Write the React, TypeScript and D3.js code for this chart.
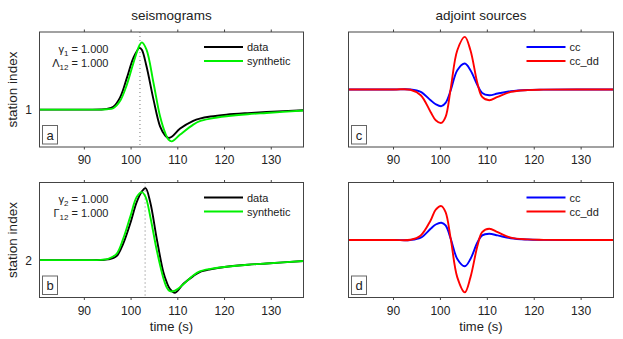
import React, { useEffect, useRef } from 'react';
import * as d3 from 'd3';

// time axis ticks (s)
const timeTicks = [90, 100, 110, 120, 130];
const timeDomain = [80.4, 136.9];

// seismograms, station 1 (panel a)
const timeA = [80.4, 90, 93.5, 94.8, 96.2, 97.6, 99.1, 100.5, 101.8, 102.3, 103.3, 104.8, 106.2, 107.3, 108.0, 108.7, 110.5, 113.3, 114.7, 117, 120.4, 125, 129, 136.9];
const dataA = [0, 0, 0.001, 0.006, 0.025, 0.102, 0.276, 0.45, 0.537, 0.52, 0.377, 0.087, -0.145, -0.225, -0.246, -0.236, -0.165, -0.098, -0.078, -0.06, -0.044, -0.03, -0.02, -0.005];
const synthA = [0, 0, 0, 0.003, 0.012, 0.072, 0.217, 0.406, 0.56, 0.585, 0.522, 0.232, -0.058, -0.203, -0.26, -0.276, -0.217, -0.13, -0.1, -0.078, -0.058, -0.04, -0.029, -0.008];

// seismograms, station 2 (panel b)
const timeB = [80.4, 90, 93.5, 95.1, 96.9, 98.3, 99.8, 101.2, 102.3, 103.1, 104.1, 105.5, 106.9, 107.6, 108.3, 109.4, 111.2, 113.3, 114.7, 117, 120.4, 125, 129, 136.9];
const dataB = [0, 0, 0.001, 0.006, 0.035, 0.142, 0.316, 0.504, 0.597, 0.626, 0.504, 0.185, -0.104, -0.19, -0.25, -0.284, -0.206, -0.139, -0.104, -0.08, -0.058, -0.04, -0.029, -0.008];
const synthB = [0, 0, 0.002, 0.011, 0.055, 0.185, 0.374, 0.548, 0.591, 0.55, 0.38, 0.085, -0.155, -0.235, -0.27, -0.265, -0.21, -0.133, -0.098, -0.076, -0.058, -0.04, -0.029, -0.008];

// adjoint sources (panels c, d)
const timeAdj = [80.4, 90, 93.6, 95.8, 97.9, 99.0, 100.2, 101.1, 102.2, 103.6, 105.2, 106.4, 107.9, 108.9, 110.4, 112.2, 115.0, 118.6, 122, 136.9];
const ccC = [0, 0, 0, -0.042, -0.186, -0.256, -0.29, -0.233, -0.012, 0.336, 0.452, 0.336, 0.075, -0.059, -0.099, -0.07, -0.03, -0.008, -0.002, 0];
const ccddC = [0, 0, -0.005, -0.099, -0.39, -0.534, -0.581, -0.477, 0.02, 0.683, 0.915, 0.683, 0.104, -0.128, -0.186, -0.128, -0.042, -0.01, -0.003, 0];
const ccD = [0, 0, 0, 0.04, 0.195, 0.27, 0.3, 0.253, 0.02, -0.33, -0.457, -0.33, -0.04, 0.08, 0.108, 0.08, 0.03, 0.008, 0.002, 0];
const ccddD = [0, 0, 0.005, 0.08, 0.34, 0.527, 0.59, 0.485, 0.02, -0.65, -0.91, -0.65, -0.1, 0.136, 0.195, 0.136, 0.04, 0.01, 0.003, 0];

const stationIndex = [1, 2];
const peakTimes = [101.9, 103.0];
const panelLetters = ['a', 'b', 'c', 'd'];

const FONT = "'Liberation Sans', Arial, Helvetica, sans-serif";

function drawPanel(svg, opt) {
    const { x0, x1, y0, y1 } = opt;
    const g = svg.append('g');

    const xScale = d3.scaleLinear().domain(timeDomain).range([x0, x1]);
    const yScale = d3.scaleLinear().domain(opt.yDomain).range([y1, y0]);

    // clip for the traces
    const clipId = `clip-${opt.letter}`;
    svg.append('clipPath').attr('id', clipId)
        .append('rect')
        .attr('x', x0).attr('y', y0)
        .attr('width', x1 - x0).attr('height', y1 - y0);

    // dotted marker at data peak
    if (opt.marker != null) {
        g.append('line')
            .attr('x1', xScale(opt.marker)).attr('x2', xScale(opt.marker))
            .attr('y1', y0).attr('y2', y1)
            .attr('stroke', '#777')
            .attr('stroke-width', 1)
            .attr('stroke-dasharray', '1,3');
    }

    const line = d3.line()
        .x((d) => xScale(d[0]))
        .y((d) => yScale(d[1]))
        .curve(d3.curveCatmullRom.alpha(0.5));

    const traces = g.append('g').attr('clip-path', `url(#${clipId})`);
    opt.series.forEach((s) => {
        const pts = opt.time.map((t, i) => [t, opt.base + s.values[i]]);
        traces.append('path')
            .attr('d', line(pts))
            .attr('fill', 'none')
            .attr('stroke', s.color)
            .attr('stroke-width', 1.9)
            .attr('stroke-linejoin', 'round');
    });

    // frame
    g.append('rect')
        .attr('x', x0).attr('y', y0)
        .attr('width', x1 - x0).attr('height', y1 - y0)
        .attr('fill', 'none')
        .attr('stroke', '#444')
        .attr('stroke-width', 1);

    // x ticks, outward on top and bottom
    timeTicks.forEach((t) => {
        const x = xScale(t);
        g.append('line').attr('x1', x).attr('x2', x).attr('y1', y0).attr('y2', y0 - 2.5)
            .attr('stroke', '#444');
        g.append('line').attr('x1', x).attr('x2', x).attr('y1', y1).attr('y2', y1 + 2.5)
            .attr('stroke', '#444');
        g.append('text')
            .attr('x', x).attr('y', y1 + 17)
            .attr('text-anchor', 'middle')
            .attr('font-size', 12)
            .attr('fill', '#222')
            .text(t);
    });

    // y tick label (station index)
    if (opt.yTick != null) {
        g.append('text')
            .attr('x', x0 - 7.5).attr('y', yScale(opt.yTick) + 4.5)
            .attr('text-anchor', 'end')
            .attr('font-size', 12)
            .attr('fill', '#222')
            .text(opt.yTick);
        g.append('text')
            .attr('transform', `translate(16.7,${(y0 + y1) / 2}) rotate(-90)`)
            .attr('text-anchor', 'middle')
            .attr('font-size', 13.5)
            .attr('fill', '#222')
            .text('station index');
    }

    // legend
    opt.series.forEach((s, i) => {
        const ly = y0 + 15 + i * 14;
        g.append('line')
            .attr('x1', opt.legendX).attr('x2', opt.legendX + 39)
            .attr('y1', ly).attr('y2', ly)
            .attr('stroke', s.color)
            .attr('stroke-width', 1.9);
        g.append('text')
            .attr('x', opt.legendX + 43).attr('y', ly + 4)
            .attr('font-size', 11)
            .attr('fill', '#222')
            .text(s.name);
    });

    // gamma annotations
    if (opt.notes) {
        opt.notes.forEach((n, i) => {
            const t = g.append('text')
                .attr('x', x0 + 69).attr('y', y0 + 20.5 + i * 14)
                .attr('text-anchor', 'end')
                .attr('font-size', 11)
                .attr('fill', '#222');
            t.append('tspan').text(n.sym);
            t.append('tspan').attr('font-size', 8).attr('dy', 3).text(n.sub);
            t.append('tspan').attr('dy', -3).text(` = ${n.value}`);
        });
    }

    // panel letter box
    g.append('rect')
        .attr('x', x0 + 3).attr('y', y1 - 21.5)
        .attr('width', 15).attr('height', 18.5)
        .attr('fill', 'white')
        .attr('stroke', '#666')
        .attr('stroke-width', 1);
    g.append('text')
        .attr('x', x0 + 10.5).attr('y', y1 - 7.5)
        .attr('text-anchor', 'middle')
        .attr('font-size', 13)
        .attr('fill', '#222')
        .text(opt.letter);

    if (opt.title) {
        g.append('text')
            .attr('x', (x0 + x1) / 2).attr('y', y0 - 12)
            .attr('text-anchor', 'middle')
            .attr('font-size', 13.5)
            .attr('fill', '#222')
            .text(opt.title);
    }
    if (opt.xLabel) {
        g.append('text')
            .attr('x', (x0 + x1) / 2).attr('y', 330.5)
            .attr('text-anchor', 'middle')
            .attr('font-size', 13)
            .attr('fill', '#222')
            .text(opt.xLabel);
    }
}

export default function App() {
    const node = useRef(null);

    useEffect(() => {
        d3.select(node.current).selectAll('*').remove();
        const svg = d3.select(node.current)
            .append('svg')
            .attr('width', 623)
            .attr('height', 339)
            .style('position', 'absolute')
            .style('left', 0)
            .style('top', 0)
            .style('background', 'white')
            .attr('font-family', FONT);

        const L = [39.5, 303.5];
        const R = [348.5, 613.5];
        const T = [32, 147];
        const B = [182.5, 297.5];
        const seis = (idx) => [idx - 0.325, idx + 0.675];

        drawPanel(svg, {
            x0: L[0], x1: L[1], y0: T[0], y1: T[1],
            yDomain: seis(stationIndex[0]), base: stationIndex[0], yTick: stationIndex[0],
            time: timeA, marker: peakTimes[0], letter: panelLetters[0], title: 'seismograms',
            legendX: 204,
            notes: [{ sym: 'γ', sub: '1', value: '1.000' }, { sym: 'Λ', sub: '12', value: '1.000' }],
            series: [
                { name: 'data', values: dataA, color: '#000000' },
                { name: 'synthetic', values: synthA, color: '#00f000' },
            ],
        });
        drawPanel(svg, {
            x0: L[0], x1: L[1], y0: B[0], y1: B[1],
            yDomain: seis(stationIndex[1]), base: stationIndex[1], yTick: stationIndex[1],
            time: timeB, marker: peakTimes[1], letter: panelLetters[1], xLabel: 'time (s)',
            legendX: 204,
            notes: [{ sym: 'γ', sub: '2', value: '1.000' }, { sym: 'Γ', sub: '12', value: '1.000' }],
            series: [
                { name: 'data', values: dataB, color: '#000000' },
                { name: 'synthetic', values: synthB, color: '#00f000' },
            ],
        });
        drawPanel(svg, {
            x0: R[0], x1: R[1], y0: T[0], y1: T[1],
            yDomain: [-1, 1], base: 0,
            time: timeAdj, letter: panelLetters[2], title: 'adjoint sources',
            legendX: 526.5,
            series: [
                { name: 'cc', values: ccC, color: '#0000ff' },
                { name: 'cc_dd', values: ccddC, color: '#ff0000' },
            ],
        });
        drawPanel(svg, {
            x0: R[0], x1: R[1], y0: B[0], y1: B[1],
            yDomain: [-1, 1], base: 0,
            time: timeAdj, letter: panelLetters[3], xLabel: 'time (s)',
            legendX: 526.5,
            series: [
                { name: 'cc', values: ccD, color: '#0000ff' },
                { name: 'cc_dd', values: ccddD, color: '#ff0000' },
            ],
        });
    }, []);

    return <div ref={node} />;
}
